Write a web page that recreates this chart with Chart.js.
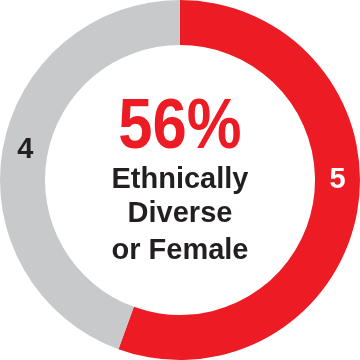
<!DOCTYPE html>
<html>
<head>
<meta charset="utf-8">
<script src="https://cdn.jsdelivr.net/npm/chart.js@4"></script>
<style>
  html, body { margin: 0; padding: 0; background: #fff; }
  #wrap { width: 360px; height: 360px; }
</style>
</head>
<body>
<div id="wrap"><canvas id="chart" width="360" height="360"></canvas></div>
<script>
const categories = ["Ethnically Diverse or Female", "Other"];
const counts = [5, 4];
const sliceColors = ["#ed1c24", "#c8c9cb"];
const labelColors = ["#ffffff", "#231f20"];
// where each count sits on the ring, degrees clockwise from the top
const labelAngles = [90, 281];
const centerPercent = "56%";
const centerLines = ["Ethnically", "Diverse", "or Female"];

// draws the percentage and caption in the hole
const centerText = {
  id: "centerText",
  afterDraw(chart) {
    const ctx = chart.ctx;
    const cx = chart.getDatasetMeta(0).data[0].x;
    ctx.save();
    ctx.textAlign = "center";
    ctx.textBaseline = "alphabetic";
    // big number is a bit taller than it is wide
    ctx.save();
    ctx.translate(cx, 148);
    ctx.scale(0.88, 1);
    ctx.fillStyle = "#ed1c24";
    ctx.font = "bold 70px 'Liberation Sans', Arial, sans-serif";
    ctx.fillText(centerPercent, 0, 0);
    ctx.restore();
    ctx.fillStyle = "#231f20";
    ctx.font = "bold 29px 'Liberation Sans', Arial, sans-serif";
    const baselines = [188, 222, 259];
    centerLines.forEach((t, i) => ctx.fillText(t, cx, baselines[i]));
    ctx.restore();
  }
};

// value labels on the ring
const sliceLabels = {
  id: "sliceLabels",
  afterDatasetsDraw(chart) {
    const ctx = chart.ctx;
    const arcs = chart.getDatasetMeta(0).data;
    ctx.save();
    ctx.textAlign = "center";
    ctx.textBaseline = "middle";
    ctx.font = "bold 29px 'Liberation Sans', Arial, sans-serif";
    arcs.forEach((arc, i) => {
      const r = (arc.innerRadius + arc.outerRadius) / 2;
      const a = labelAngles[i] * Math.PI / 180;
      ctx.fillStyle = labelColors[i];
      ctx.fillText(String(counts[i]), arc.x + r * Math.sin(a), arc.y - r * Math.cos(a));
    });
    ctx.restore();
  }
};

new Chart(document.getElementById("chart"), {
  type: "doughnut",
  data: {
    labels: categories,
    datasets: [{
      data: counts,
      backgroundColor: sliceColors,
      borderWidth: 0
    }]
  },
  options: {
    responsive: false,
    animation: false,
    cutout: "75%",
    layout: { padding: 0 },
    plugins: {
      legend: { display: false },
      tooltip: { enabled: false }
    }
  },
  plugins: [sliceLabels, centerText]
});
</script>
</body>
</html>
